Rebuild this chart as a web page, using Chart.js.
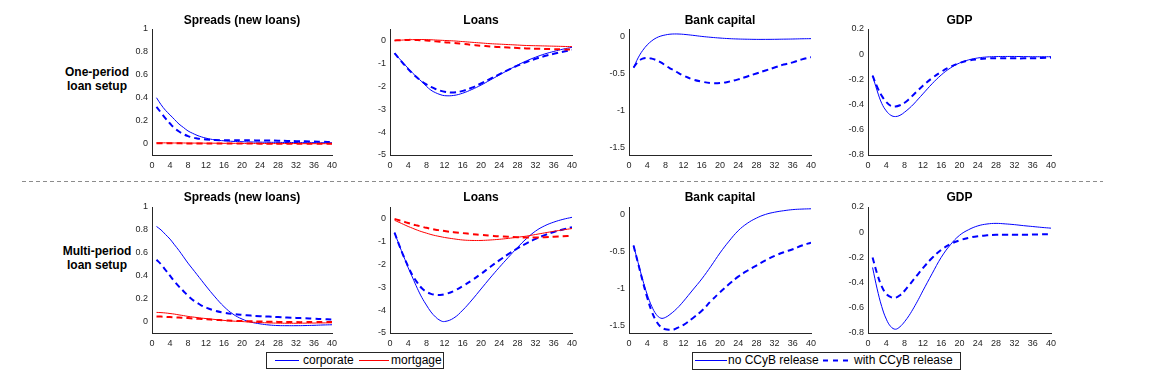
<!DOCTYPE html>
<html>
<head>
<meta charset="utf-8">
<script src="https://cdn.jsdelivr.net/npm/chart.js@4.4.0/dist/chart.umd.min.js"></script>
<style>
body { margin:0; background:#fff; }
#page { position:relative; width:1161px; height:374px; overflow:hidden; font-family: Arial, "Liberation Sans", sans-serif; }
#page canvas { position:absolute; }
.rowlab { position:absolute; width:110px; text-align:center; font-weight:bold; font-size:12px; line-height:14px; color:#000; }
.legend { position:absolute; border:1px solid #262626; background:#fff; box-sizing:border-box; }
.legend span { position:absolute; font-size:12px; line-height:14px; top:0px; color:#000; white-space:nowrap; }
.legend svg { position:absolute; top:0; left:0; }
</style>
</head>
<body>
<div id="page">
  <svg style="position:absolute;left:0;top:0" width="1161" height="374">
    <line x1="22" y1="181.5" x2="1103" y2="181.5" stroke="#8c8c8c" stroke-width="1" stroke-dasharray="4 3"/>
  </svg>
  <div class="rowlab" style="left:42px;top:65px">One-period<br>loan setup</div>
  <div class="rowlab" style="left:42px;top:244px">Multi-period<br>loan setup</div>

  <div class="legend" style="left:266px;top:352px;width:178px;height:17px">
    <svg width="176" height="15">
      <line x1="8" y1="7.5" x2="32" y2="7.5" stroke="#0000ff" stroke-width="1"/>
      <line x1="92" y1="7.5" x2="122" y2="7.5" stroke="#ff0000" stroke-width="1"/>
    </svg>
    <span style="left:36px">corporate</span>
    <span style="left:124px">mortgage</span>
  </div>
  <div class="legend" style="left:692px;top:352px;width:269px;height:18px">
    <svg width="267" height="16">
      <line x1="2" y1="7.5" x2="34" y2="7.5" stroke="#0000ff" stroke-width="1"/>
      <line x1="130" y1="7.5" x2="160" y2="7.5" stroke="#0000ff" stroke-width="2" stroke-dasharray="5 5"/>
    </svg>
    <span style="left:35px">no CCyB release</span>
    <span style="left:161px">with CCyB release</span>
  </div>
</div>
<script>
// horizon (quarters) and axis ticks
const horizon = [1,2,3,4,5,6,7,8,9,10,11,12,14,16,18,20,22,24,26,28,30,32,34,36,38,40];
const xTicks = [0,4,8,12,16,20,24,28,32,36,40];
const spreadTicks = [0,0.2,0.4,0.6,0.8,1];
const loanTicks = [-5,-4,-3,-2,-1,0];
const capitalTicks = [-1.5,-1,-0.5,0];
const gdpTicks = [-0.8,-0.6,-0.4,-0.2,0,0.2];

// one-period loan setup
const opSpreadCorpNo  = [0.40,0.34,0.29,0.25,0.21,0.17,0.14,0.11,0.09,0.072,0.058,0.047,0.032,0.024,0.019,0.016,0.014,0.012,0.011,0.010,0.009,0.009,0.008,0.008,0.007,0.007];
const opSpreadCorpYes = [0.32,0.27,0.22,0.175,0.135,0.105,0.082,0.065,0.053,0.045,0.039,0.035,0.030,0.028,0.028,0.028,0.028,0.027,0.026,0.025,0.023,0.021,0.019,0.017,0.015,0.013];
const opSpreadMortNo  = [0.006,0.006,0.006,0.005,0.005,0.005,0.005,0.004,0.004,0.004,0.004,0.003,0.003,0.002,0.002,0.001,0.001,0.001,0,0,0,0,-0.001,-0.001,-0.001,-0.001];
const opSpreadMortYes = [0.002,0.002,0.002,0.002,0.002,0.002,0.001,0.001,0.001,0.001,0.001,0.001,0,0,0,0,0,-0.001,-0.001,-0.001,-0.001,-0.001,-0.001,-0.001,-0.001,-0.001];
const opLoanCorpNo  = [-0.55,-0.78,-1.0,-1.22,-1.43,-1.62,-1.8,-2.0,-2.17,-2.28,-2.36,-2.41,-2.4,-2.3,-2.14,-1.95,-1.73,-1.51,-1.29,-1.08,-0.89,-0.73,-0.59,-0.48,-0.38,-0.3];
const opLoanCorpYes = [-0.55,-0.8,-1.03,-1.25,-1.45,-1.63,-1.79,-1.92,-2.03,-2.12,-2.19,-2.24,-2.27,-2.2,-2.06,-1.88,-1.68,-1.48,-1.28,-1.1,-0.94,-0.8,-0.68,-0.58,-0.49,-0.41];
const opLoanMortNo  = [0,0.01,0.02,0.03,0.035,0.04,0.04,0.035,0.03,0.02,0.01,0,-0.02,-0.05,-0.08,-0.11,-0.14,-0.16,-0.18,-0.2,-0.22,-0.23,-0.24,-0.25,-0.26,-0.27];
const opLoanMortYes = [0,0.01,0.02,0.025,0.025,0.02,0.01,0,-0.02,-0.04,-0.06,-0.08,-0.11,-0.15,-0.19,-0.23,-0.26,-0.29,-0.31,-0.33,-0.35,-0.36,-0.37,-0.38,-0.39,-0.4];
const opCapNo  = [-0.42,-0.29,-0.19,-0.115,-0.06,-0.02,0.005,0.02,0.03,0.033,0.032,0.028,0.015,0,-0.012,-0.022,-0.03,-0.035,-0.038,-0.04,-0.04,-0.039,-0.037,-0.035,-0.032,-0.03];
const opCapYes = [-0.42,-0.34,-0.3,-0.29,-0.3,-0.32,-0.35,-0.39,-0.43,-0.46,-0.5,-0.53,-0.58,-0.61,-0.63,-0.63,-0.61,-0.58,-0.54,-0.5,-0.46,-0.42,-0.38,-0.35,-0.31,-0.28];
const opGdpNo  = [-0.17,-0.29,-0.39,-0.45,-0.485,-0.495,-0.485,-0.46,-0.43,-0.395,-0.355,-0.315,-0.235,-0.165,-0.11,-0.07,-0.045,-0.03,-0.022,-0.019,-0.018,-0.018,-0.019,-0.02,-0.02,-0.02];
const opGdpYes = [-0.17,-0.26,-0.33,-0.38,-0.41,-0.415,-0.405,-0.385,-0.355,-0.32,-0.285,-0.25,-0.19,-0.14,-0.1,-0.07,-0.05,-0.04,-0.034,-0.032,-0.032,-0.033,-0.033,-0.032,-0.03,-0.027];

// multi-period loan setup
const mpSpreadCorpNo  = [0.83,0.8,0.76,0.72,0.67,0.62,0.565,0.51,0.46,0.41,0.36,0.31,0.215,0.13,0.065,0.022,-0.005,-0.02,-0.03,-0.035,-0.036,-0.036,-0.035,-0.033,-0.03,-0.028];
const mpSpreadCorpYes = [0.54,0.5,0.45,0.4,0.35,0.305,0.265,0.225,0.19,0.165,0.14,0.122,0.095,0.078,0.066,0.058,0.052,0.047,0.043,0.039,0.035,0.032,0.028,0.025,0.021,0.018];
const mpSpreadMortNo  = [0.08,0.078,0.075,0.07,0.065,0.058,0.052,0.045,0.04,0.035,0.03,0.026,0.018,0.01,0.004,0,-0.005,-0.009,-0.012,-0.014,-0.015,-0.015,-0.014,-0.013,-0.012,-0.011];
const mpSpreadMortYes = [0.045,0.043,0.041,0.039,0.037,0.035,0.032,0.03,0.027,0.025,0.022,0.02,0.015,0.011,0.007,0.004,0.002,0,-0.002,-0.003,-0.004,-0.005,-0.005,-0.005,-0.005,-0.005];
const mpLoanCorpNo  = [-0.62,-1.15,-1.65,-2.15,-2.6,-3.05,-3.45,-3.78,-4.08,-4.3,-4.45,-4.5,-4.35,-4.0,-3.56,-3.08,-2.6,-2.14,-1.7,-1.27,-0.88,-0.55,-0.32,-0.16,-0.04,0.05];
const mpLoanCorpYes = [-0.62,-1.15,-1.65,-2.1,-2.5,-2.8,-3.05,-3.2,-3.29,-3.33,-3.34,-3.31,-3.17,-2.95,-2.7,-2.42,-2.12,-1.83,-1.56,-1.31,-1.09,-0.89,-0.73,-0.59,-0.48,-0.38];
const mpLoanMortNo  = [-0.08,-0.17,-0.26,-0.35,-0.43,-0.51,-0.58,-0.64,-0.7,-0.75,-0.79,-0.83,-0.89,-0.94,-0.96,-0.96,-0.94,-0.91,-0.87,-0.82,-0.77,-0.7,-0.63,-0.56,-0.5,-0.44];
const mpLoanMortYes = [-0.02,-0.08,-0.14,-0.2,-0.26,-0.31,-0.36,-0.41,-0.45,-0.49,-0.52,-0.55,-0.6,-0.64,-0.68,-0.72,-0.75,-0.78,-0.8,-0.82,-0.83,-0.83,-0.82,-0.8,-0.78,-0.76];
const mpCapNo  = [-0.42,-0.65,-0.88,-1.08,-1.24,-1.35,-1.4,-1.39,-1.35,-1.3,-1.24,-1.17,-1.02,-0.87,-0.7,-0.52,-0.36,-0.22,-0.12,-0.05,0,0.03,0.05,0.065,0.072,0.076];
const mpCapYes = [-0.42,-0.66,-0.9,-1.12,-1.31,-1.44,-1.52,-1.55,-1.555,-1.55,-1.52,-1.49,-1.4,-1.3,-1.17,-1.05,-0.94,-0.84,-0.76,-0.69,-0.62,-0.56,-0.51,-0.47,-0.42,-0.38];
const mpGdpNo  = [-0.28,-0.45,-0.59,-0.69,-0.75,-0.77,-0.75,-0.71,-0.66,-0.6,-0.535,-0.465,-0.33,-0.2,-0.1,-0.025,0.02,0.05,0.065,0.07,0.066,0.06,0.052,0.045,0.038,0.032];
const mpGdpYes = [-0.2,-0.33,-0.43,-0.49,-0.515,-0.52,-0.5,-0.465,-0.42,-0.375,-0.33,-0.285,-0.205,-0.14,-0.095,-0.065,-0.045,-0.032,-0.025,-0.021,-0.02,-0.02,-0.02,-0.019,-0.017,-0.015];

const BLUE = '#0000ff', RED = '#ff0000';
const FONT = 'Arial, "Liberation Sans", sans-serif';

// plot areas (pixels)
const colLeft = [152, 390, 629, 868];
const colWidth = [180, 182, 182, 183];
const rowTop = [29, 207];
const plotH = 126;
const titleTop = [13.8, 12.1];
const AXW = 45, RPAD = 14, TOPH = 29, XH = 20;

function line(values, color, dashed) {
  return { values: values, color: color, dashed: dashed };
}

const panels = [
  { row:0, col:0, title:'Spreads (new loans)', min:-0.1, max:1, ticks:spreadTicks,
    series:[line(opSpreadMortNo,RED,false), line(opSpreadMortYes,RED,true), line(opSpreadCorpNo,BLUE,false), line(opSpreadCorpYes,BLUE,true)] },
  { row:0, col:1, title:'Loans', min:-5, max:0.5, ticks:loanTicks,
    series:[line(opLoanMortNo,RED,false), line(opLoanMortYes,RED,true), line(opLoanCorpNo,BLUE,false), line(opLoanCorpYes,BLUE,true)] },
  { row:0, col:2, title:'Bank capital', min:-1.6, max:0.1, ticks:capitalTicks,
    series:[line(opCapNo,BLUE,false), line(opCapYes,BLUE,true)] },
  { row:0, col:3, title:'GDP', min:-0.8, max:0.2, ticks:gdpTicks,
    series:[line(opGdpNo,BLUE,false), line(opGdpYes,BLUE,true)] },
  { row:1, col:0, title:'Spreads (new loans)', min:-0.1, max:1, ticks:spreadTicks,
    series:[line(mpSpreadMortNo,RED,false), line(mpSpreadMortYes,RED,true), line(mpSpreadCorpNo,BLUE,false), line(mpSpreadCorpYes,BLUE,true)] },
  { row:1, col:1, title:'Loans', min:-5, max:0.5, ticks:loanTicks,
    series:[line(mpLoanMortNo,RED,false), line(mpLoanMortYes,RED,true), line(mpLoanCorpNo,BLUE,false), line(mpLoanCorpYes,BLUE,true)] },
  { row:1, col:2, title:'Bank capital', min:-1.6, max:0.1, ticks:capitalTicks,
    series:[line(mpCapNo,BLUE,false), line(mpCapYes,BLUE,true)] },
  { row:1, col:3, title:'GDP', min:-0.8, max:0.2, ticks:gdpTicks,
    series:[line(mpGdpNo,BLUE,false), line(mpGdpYes,BLUE,true)] }
];

const page = document.getElementById('page');

panels.forEach(p => {
  const cv = document.createElement('canvas');
  const W = colWidth[p.col];
  cv.width = AXW + W + RPAD;
  cv.height = TOPH + plotH + XH;
  cv.style.left = (colLeft[p.col] - AXW) + 'px';
  cv.style.top = (rowTop[p.row] - TOPH) + 'px';
  page.appendChild(cv);

  const tickFont = { family: FONT, size: 9 };

  new Chart(cv, {
    type: 'line',
    data: {
      datasets: p.series.map(s => ({
        data: horizon.map((h, i) => ({ x: h, y: s.values[i] })),
        borderColor: s.color,
        borderWidth: s.dashed ? 2 : 1,
        borderDash: s.dashed ? [6, 4] : [],
        pointRadius: 0,
        tension: 0.4,
        fill: false
      }))
    },
    options: {
      responsive: false,
      animation: false,
      devicePixelRatio: 1,
      layout: { padding: { left: 0, right: RPAD, top: 0, bottom: 0 } },
      plugins: {
        legend: { display: false },
        tooltip: { enabled: false },
        title: {
          display: true, fullSize: false, text: p.title, color: '#000',
          font: { family: FONT, size: 12, weight: 'bold', lineHeight: 1.2 },
          padding: { top: titleTop[p.row], bottom: TOPH - 14.4 - titleTop[p.row] }
        }
      },
      scales: {
        x: {
          type: 'linear', min: 0, max: 40,
          grid: { display: false, drawTicks: false },
          border: { display: true, color: '#262626', width: 1 },
          ticks: { font: tickFont, color: '#262626', padding: 5, autoSkip: false, maxRotation: 0, callback: v => String(v) },
          afterBuildTicks: s => { s.ticks = xTicks.map(v => ({ value: v })); },
          afterFit: s => { s.height = XH; }
        },
        y: {
          type: 'linear', min: p.min, max: p.max,
          grid: { display: false, drawTicks: false },
          border: { display: true, color: '#262626', width: 1 },
          ticks: { font: tickFont, color: '#262626', padding: 4, autoSkip: false, callback: v => String(v) },
          afterBuildTicks: s => { s.ticks = p.ticks.map(v => ({ value: v })); },
          afterFit: s => { s.width = AXW; }
        }
      }
    }
  });
});
</script>
</body>
</html>
